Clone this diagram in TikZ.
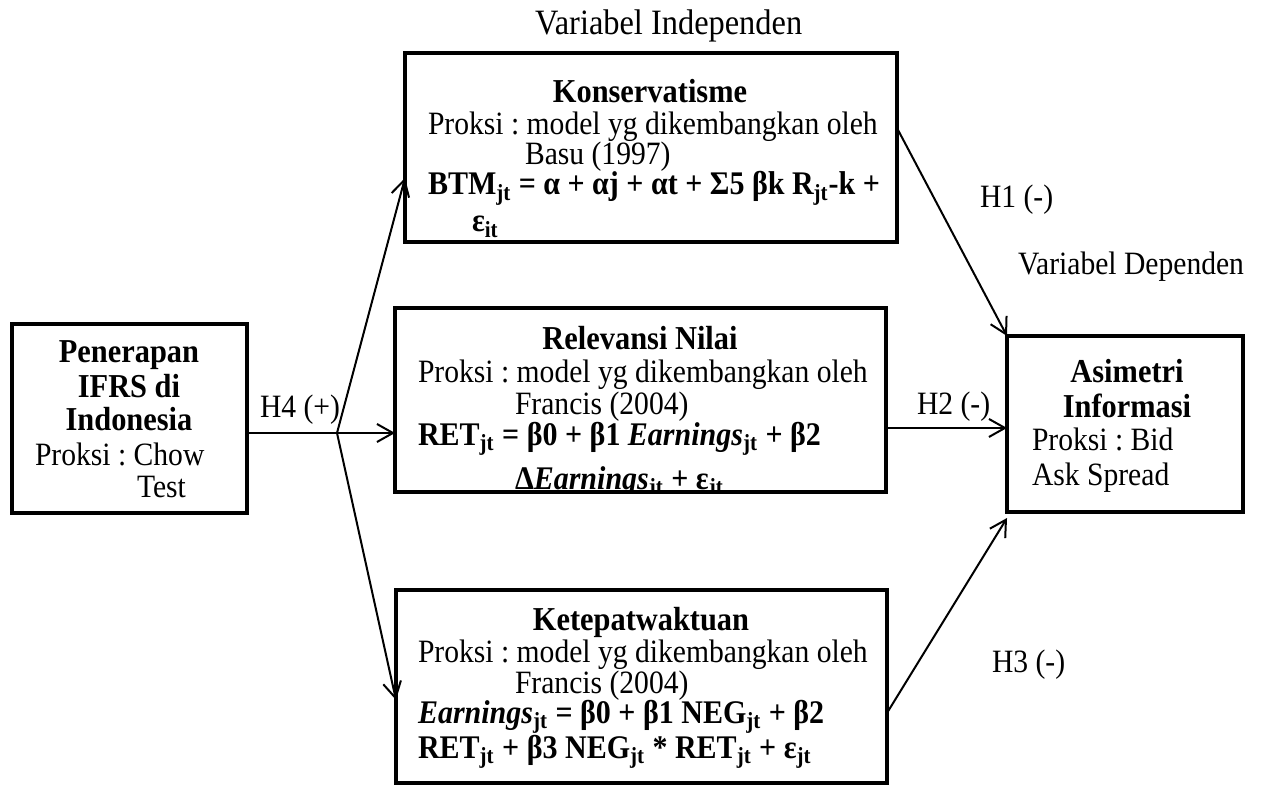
\documentclass[tikz,border=0pt]{standalone}
\usepackage{fontspec}
\setmainfont{Liberation Serif}
\usetikzlibrary{arrows.meta,calc}
\newcommand{\sbs}[1]{\textsubscript{#1}}
\newcommand{\vs}[1]{\scalebox{1}[1.1]{#1}}
\frenchspacing
\begin{document}
\begin{tikzpicture}[x=0.5pt,y=-0.5pt,
  box/.style={draw, line width=2.3pt, inner sep=0pt, outer sep=0pt},
  txt/.style={inner sep=0pt, outer sep=0pt, font=\fontsize{14.8}{16}\selectfont, anchor=base west},
  ttl/.style={txt, anchor=base, font=\fontsize{15.2}{16}\selectfont\bfseries},
  frm/.style={txt, font=\fontsize{15}{16}\selectfont\bfseries},
  arr/.style={line width=1pt, -{Straight Barb[length=8pt,width=9pt]}},
  ln/.style={line width=1pt}]
\useasboundingbox (0,0) rectangle (1261,785);

% boxes
\node[box, minimum width=246pt, minimum height=94.5pt] (kons) at (651,147.5) {};
\node[box, minimum width=245.5pt, minimum height=92pt] (rel) at (640.5,400) {};
\node[box, minimum width=245.5pt, minimum height=96.5pt] (kep) at (641.5,686.5) {};
\node[box, minimum width=117.5pt, minimum height=94.5pt] (pen) at (129.5,418.5) {};
\node[box, minimum width=118pt, minimum height=88pt] (asi) at (1125,424) {};

% Konservatisme text
\begin{scope}
\clip ($(kons.north west)+(2.3,2.3)$) rectangle ($(kons.south east)+(-2.3,-2.3)$);
\node[ttl] (k1) at (650,103) {\vs{Konservatisme}};
\node[txt] (k2) at (428,135) {\vs{Proksi : model yg dikembangkan oleh}};
\node[txt] (k3) at (525,165) {\vs{Basu (1997)}};
\node[frm] (k4) at (428,195) {\vs{BTM\sbs{jt} = α + αj + αt + Σ5 βk R\sbs{jt}-k +}};
\node[frm] (k5) at (472,232) {\vs{ε\sbs{it}}};
\end{scope}

% Relevansi text
\begin{scope}
\clip ($(rel.north west)+(2.3,2.3)$) rectangle ($(rel.south east)+(-2.3,-2.3)$);
\node[ttl] (r1) at (640,350) {\vs{Relevansi Nilai}};
\node[txt] (r2) at (418,383) {\vs{Proksi : model yg dikembangkan oleh}};
\node[txt] (r3) at (515,415) {\vs{Francis (2004)}};
\node[frm] (r4) at (418,445) {\vs{RET\sbs{jt} = β0 + β1 \textit{Earnings}\sbs{jt} + β2}};
\node[frm] (r5) at (515,489) {\vs{Δ\textit{Earnings}\sbs{jt} + ε\sbs{jt}}};
\end{scope}

% Ketepatwaktuan text
\begin{scope}
\clip ($(kep.north west)+(2.3,2.3)$) rectangle ($(kep.south east)+(-2.3,-2.3)$);
\node[ttl] (t1) at (641,630) {\vs{Ketepatwaktuan}};
\node[txt] (t2) at (418,662) {\vs{Proksi : model yg dikembangkan oleh}};
\node[txt] (t3) at (515,693) {\vs{Francis (2004)}};
\node[frm] (t4) at (418,723) {\vs{\textit{Earnings}\sbs{jt} = β0 + β1 NEG\sbs{jt} + β2}};
\node[frm] (t5) at (418,758) {\vs{RET\sbs{jt} + β3 NEG\sbs{jt} * RET\sbs{jt} + ε\sbs{jt}}};
\end{scope}

% Penerapan text
\node[ttl] (p1) at (129,363) {\vs{Penerapan}};
\node[ttl] (p2) at (129,398) {\vs{IFRS di}};
\node[ttl] (p3) at (129,430) {\vs{Indonesia}};
\node[txt] (p4) at (35,465) {\vs{Proksi : Chow}};
\node[txt] (p5) at (137,497) {\vs{Test}};

% Asimetri text
\node[ttl] (a1) at (1127,383) {\vs{Asimetri}};
\node[ttl] (a2) at (1127,417) {\vs{Informasi}};
\node[txt] (a3) at (1032,450) {\vs{Proksi : Bid}};
\node[txt] (a4) at (1032,485) {\vs{Ask Spread}};

% labels
\node[txt, font=\fontsize{16.2}{17}\selectfont] (lvi) at (535,35) {\vs{Variabel Independen}};
\node[txt] (lvd) at (1018,275) {\vs{Variabel Dependen}};
\node[txt] (h1) at (980,208) {\vs{H1 (-)}};
\node[txt] (h2l) at (917,415) {\vs{H2 (-)}};
\node[txt] (h3) at (992,672) {\vs{H3 (-)}};
\node[txt] (h4) at (260,417) {\vs{H4 (+)}};

% connectors
\coordinate (br) at (337,433);
\draw[ln] (pen.east |- br) -- (br);
\draw[arr] (br) -- (br -| rel.west);
\draw[arr] (br) -- ($(kons.south west)!0.339!(kons.north west)$);
\draw[arr] (br) -- ($(kep.south west)!0.43!(kep.north west)$);
\draw[arr] ($(kons.south east)!0.603!(kons.north east)$) -- (asi.north west);
\draw[arr] ($(rel.south east)!0.348!(rel.north east)$) coordinate (h2s) -- (h2s -| asi.west);
\draw[arr] ($(kep.south east)!0.363!(kep.north east)$) -- ($(asi.south west)+(0,6)$);
\end{tikzpicture}
\end{document}
